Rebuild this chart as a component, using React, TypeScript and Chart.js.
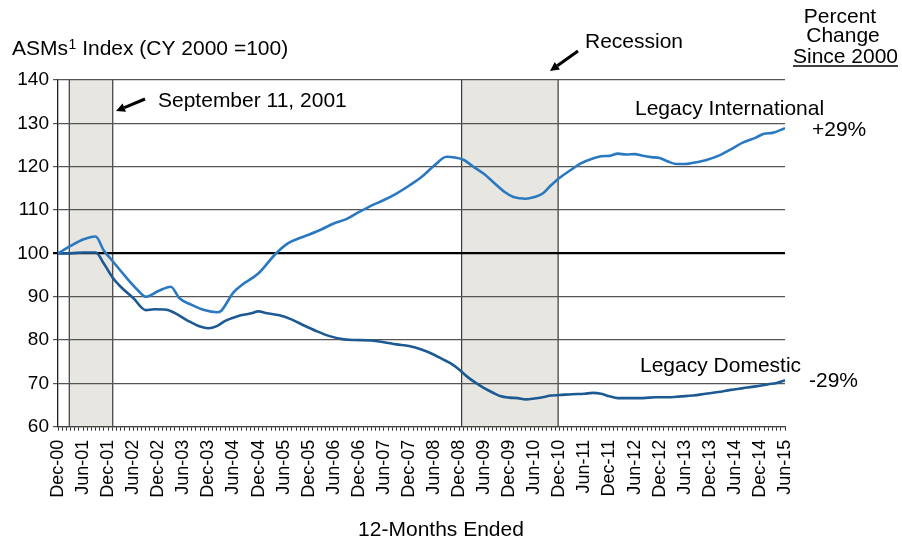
import { useEffect, useRef } from 'react';
import { Chart, registerables } from 'chart.js';
Chart.register(...registerables);

const tickLabels = ['Dec-00','Jun-01','Dec-01','Jun-02','Dec-02','Jun-03','Dec-03','Jun-04','Dec-04','Jun-05','Dec-05','Jun-06','Dec-06','Jun-07','Dec-07','Jun-08','Dec-08','Jun-09','Dec-09','Jun-10','Dec-10','Jun-11','Dec-11','Jun-12','Dec-12','Jun-13','Dec-13','Jun-14','Dec-14','Jun-15'];

// months since Dec-00
const intlMonths = [0,3,6,9,11,13,16,19,21,24,27,29,32,35,38,39,42,44,48,52,55,57,60,63,66,69,72,75,78,81,84,87,90,93,95,97,100,102,104,107,109,112,114,116,118,120,123,125,128,130,132,134,136,138,140,142,144,146,148,150,152,155,158,161,164,167,169,171,174];
const intlValues = [100,101.7,103.2,103.9,100.6,98.3,94.8,91.6,90.0,91.3,92.3,89.7,88.1,86.9,86.4,86.7,91.0,92.7,95.4,99.8,102.3,103.2,104.3,105.5,106.9,107.9,109.5,111.0,112.3,113.8,115.6,117.6,120.2,122.3,122.1,121.6,119.6,118.3,116.6,114.1,113.0,112.6,113.0,113.8,115.7,117.4,119.4,120.7,121.9,122.4,122.5,123.0,122.8,122.9,122.5,122.2,122.0,121.2,120.6,120.6,120.9,121.5,122.5,124.0,125.6,126.7,127.6,127.8,128.9];

const domMonths = [0,3,6,9,11,13,15,18,21,23,26,28,31,34,36,38,40,43,46,48,50,53,56,59,62,65,68,71,75,78,81,84,87,90,92,94,96,98,100,102,104,106,108,110,112,114,116,118,120,123,126,128,130,132,134,137,140,143,146,149,152,155,158,161,164,167,170,172,174];
const domValues = [100,100,100.2,100.2,97.6,94.5,92.3,89.7,86.9,87.1,87.0,86.2,84.5,83.1,82.7,83.2,84.4,85.5,86.1,86.6,86.2,85.7,84.7,83.3,82.0,80.9,80.2,80.0,79.9,79.5,79.0,78.6,77.8,76.6,75.6,74.6,73.2,71.5,70.1,68.9,67.9,67.0,66.7,66.6,66.3,66.5,66.8,67.2,67.3,67.5,67.6,67.8,67.6,67.0,66.6,66.6,66.6,66.8,66.8,67.0,67.2,67.6,68.0,68.5,68.9,69.3,69.8,70.1,70.7];

const shadeStarts = [2.7, 96.6];
const shadeEnds = [13.1, 119.7];

const FONT = '"Liberation Sans", Arial, Helvetica, sans-serif';

function arrow(ctx: CanvasRenderingContext2D, x1: number, y1: number, x2: number, y2: number) {
  const ang = Math.atan2(y2 - y1, x2 - x1);
  const hl = 9, hw = 4.5;
  const bx = x2 - hl * Math.cos(ang), by = y2 - hl * Math.sin(ang);
  ctx.save();
  ctx.strokeStyle = '#000';
  ctx.fillStyle = '#000';
  ctx.lineWidth = 3;
  ctx.beginPath();
  ctx.moveTo(x1, y1);
  ctx.lineTo(bx, by);
  ctx.stroke();
  ctx.beginPath();
  ctx.moveTo(x2, y2);
  ctx.lineTo(bx + hw * Math.sin(ang), by - hw * Math.cos(ang));
  ctx.lineTo(bx - hw * Math.sin(ang), by + hw * Math.cos(ang));
  ctx.closePath();
  ctx.fill();
  ctx.restore();
}

const shadePlugin = {
  id: 'shade',
  beforeDraw(chart: any) {
    const { ctx, chartArea, scales } = chart;
    const xs = scales.x;
    ctx.save();
    for (let i = 0; i < shadeStarts.length; i++) {
      const a = xs.getPixelForValue(shadeStarts[i]);
      const b = xs.getPixelForValue(shadeEnds[i]);
      ctx.fillStyle = '#e8e6e0';
      ctx.fillRect(a, chartArea.top, b - a, chartArea.bottom - chartArea.top);
      ctx.strokeStyle = '#3a3a3a';
      ctx.lineWidth = 1.2;
      ctx.beginPath();
      ctx.moveTo(a, chartArea.top);
      ctx.lineTo(a, chartArea.bottom);
      ctx.moveTo(b, chartArea.top);
      ctx.lineTo(b, chartArea.bottom);
      ctx.stroke();
    }
    ctx.restore();
  },
};

const textPlugin = {
  id: 'texts',
  afterDraw(chart: any) {
    const ctx = chart.ctx as CanvasRenderingContext2D;
    ctx.save();
    ctx.fillStyle = '#000';
    ctx.textBaseline = 'alphabetic';
    const F = (s: number) => `${s}px ${FONT}`;
    // y title
    ctx.font = F(21);
    ctx.textAlign = 'left';
    ctx.fillText('ASMs', 12, 55);
    const w = ctx.measureText('ASMs').width;
    ctx.font = F(14);
    ctx.fillText('1', 12 + w + 0.5, 49);
    const w1 = ctx.measureText('1').width;
    ctx.font = F(21);
    ctx.fillText(' Index (CY 2000 =100)', 12 + w + 0.5 + w1, 55);

    ctx.fillText('September 11, 2001', 158, 107);
    arrow(ctx, 145, 99, 116, 111);

    ctx.fillText('Recession', 585, 48);
    arrow(ctx, 578, 51, 550, 71);

    ctx.fillText('Legacy International', 635, 115);
    ctx.fillText('+29%', 812, 136);
    ctx.fillText('Legacy Domestic', 640, 372);
    ctx.fillText('-29%', 809, 387);

    ctx.textAlign = 'center';
    ctx.fillText('Percent', 840, 23);
    ctx.fillText('Change', 843, 42);
    ctx.fillText('Since 2000', 845.5, 63);
    const ws = ctx.measureText('Since 2000').width;
    ctx.strokeStyle = '#000';
    ctx.lineWidth = 1.3;
    ctx.beginPath();
    ctx.moveTo(845.5 - ws / 2, 66);
    ctx.lineTo(845.5 + ws / 2, 66);
    ctx.stroke();

    ctx.fillText('12-Months Ended', 441, 536);
    ctx.restore();
  },
};

export default function App() {
  const ref = useRef<HTMLCanvasElement>(null);
  useEffect(() => {
    const canvas = ref.current!;
    const chart = new Chart(canvas, {
      type: 'line',
      data: {
        datasets: [
          {
            label: 'Legacy International',
            data: intlMonths.map((m, i) => ({ x: m, y: intlValues[i] })),
            borderColor: '#2a79c0',
            borderWidth: 2.6,
            pointRadius: 0,
            cubicInterpolationMode: 'monotone',
          },
          {
            label: 'Legacy Domestic',
            data: domMonths.map((m, i) => ({ x: m, y: domValues[i] })),
            borderColor: '#1d5a94',
            borderWidth: 2.6,
            pointRadius: 0,
            cubicInterpolationMode: 'monotone',
          },
        ],
      },
      options: {
        responsive: false,
        animation: false,
        events: [],
        layout: { padding: { left: 8, top: 80, right: 117, bottom: 0 } },
        plugins: { legend: { display: false }, tooltip: { enabled: false } },
        scales: {
          x: {
            type: 'linear',
            min: 0,
            max: 174,
            afterFit: (s: any) => { s.height = 114.3; },
            grid: { display: true, drawOnChartArea: false, drawTicks: true, tickLength: 4, color: '#333', lineWidth: 1 },
            border: { display: true, color: '#444', width: 1.3 },
            ticks: {
              stepSize: 1,
              maxTicksLimit: 500,
              autoSkip: false,
              minRotation: 90,
              maxRotation: 90,
              padding: 9,
              color: '#000',
              font: { family: FONT, size: 18 },
              callback: (v: any) => (Number(v) % 6 === 0 ? tickLabels[Number(v) / 6] : ''),
            },
          },
          y: {
            min: 60,
            max: 140,
            afterFit: (s: any) => { s.width = 50; },
            grid: {
              color: (c: any) => (c.tick && c.tick.value === 100 ? '#000' : '#555'),
              lineWidth: (c: any) => (c.tick && c.tick.value === 100 ? 2.2 : 1.2),
              tickLength: 5,
              drawTicks: true,
            },
            border: { display: true, color: '#222', width: 1.3 },
            ticks: {
              stepSize: 10,
              padding: 4,
              color: '#000',
              font: { family: FONT, size: 19 },
            },
          },
        },
      },
      plugins: [shadePlugin, textPlugin],
    } as any);
    return () => chart.destroy();
  }, []);
  return (
    <div style={{ position: 'fixed', left: 0, top: 0, width: 902, height: 541, background: '#fff' }}>
      <canvas ref={ref} width={902} height={541} style={{ display: 'block' }} />
    </div>
  );
}
